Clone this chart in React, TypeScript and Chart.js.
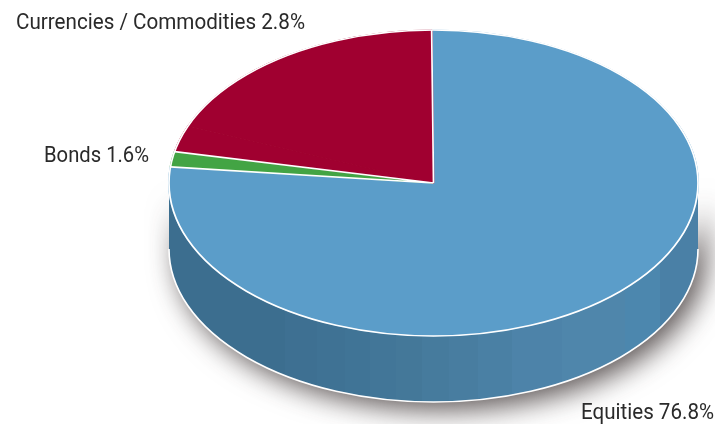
import React, { useEffect, useRef } from "react";
import { Chart, registerables } from "chart.js";

Chart.register(...registerables);

// Allocation shares, clockwise from twelve o'clock. The share that carries no
// caption of its own completes the full circle and shares the commodities colour.
const categories = ["Equities", "Bonds", "Currencies / Commodities", "Unlabelled remainder"];
const shares = [76.8, 1.6, 2.8, 18.8];
const faceColors = ["#5b9dc9", "#43a444", "#a00030", "#a00030"];

const captions = ["Equities 76.8%", "Bonds 1.6%", "Currencies / Commodities 2.8%"];
const captionX = [581, 44, 16];
const captionY = [413, 156, 23];
const captionWidth = [133, 105, 289];

// Flat shading bands along the front wall: right edge of each band as a
// fraction of the wall's width, and the band's colour.
const wallBandEnds = [0.219, 0.28, 0.333, 0.38, 0.429, 0.478, 0.529, 0.584, 0.648, 0.743, 0.862, 0.929, 1];
const wallBandColors = [
  "#3c6e8f", "#3e7092", "#3f7294", "#407496", "#427698", "#447899", "#467b9d",
  "#487da0", "#4a80a4", "#4d83a9", "#4f86ab", "#4c87ae", "#4a80a6",
];

const RADIUS_X = 264.5;
const WALL_DEPTH = 66;

const pie3d = {
  id: "pie3d",
  beforeDatasetsDraw(chart: any) {
    const ctx = chart.ctx;
    const { x: cx, y: cy, outerRadius: ry } = chart.getDatasetMeta(0).data[0];

    const grad = ctx.createLinearGradient(cx - RADIUS_X, 0, cx + RADIUS_X, 0);
    wallBandEnds.forEach((end, i) => {
      grad.addColorStop(i === 0 ? 0 : wallBandEnds[i - 1], wallBandColors[i]);
      grad.addColorStop(end, wallBandColors[i]);
    });

    // Front wall: only the lower half of the rim can be seen. It also casts
    // the soft drop shadow below and to the right of the pie.
    ctx.save();
    ctx.beginPath();
    ctx.ellipse(cx, cy, RADIUS_X, ry, 0, 0, Math.PI, false);
    ctx.ellipse(cx, cy + WALL_DEPTH, RADIUS_X, ry, 0, Math.PI, 0, true);
    ctx.closePath();
    ctx.shadowColor = "rgba(30,20,20,0.72)";
    ctx.shadowBlur = 28;
    ctx.shadowOffsetX = 8;
    ctx.shadowOffsetY = 8;
    ctx.fillStyle = grad;
    ctx.fill();
    ctx.restore();

    ctx.save();
    ctx.beginPath();
    ctx.ellipse(cx, cy + WALL_DEPTH, RADIUS_X, ry, 0, 0, Math.PI, false);
    ctx.strokeStyle = "#ffffff";
    ctx.lineWidth = 1.6;
    ctx.stroke();
    ctx.restore();

    // The library draws circular arcs; stretch them into the tilted top face.
    ctx.save();
    ctx.translate(cx, cy);
    ctx.scale(RADIUS_X / ry, 1);
    ctx.translate(-cx, -cy);
  },
  afterDatasetsDraw(chart: any) {
    const ctx = chart.ctx;
    ctx.restore();
    const arcs = chart.getDatasetMeta(0).data;
    const { x: cx, y: cy, outerRadius: ry } = arcs[0];
    ctx.save();
    ctx.strokeStyle = "#ffffff";
    ctx.lineWidth = 1.7;
    ctx.beginPath();
    ctx.ellipse(cx, cy, RADIUS_X, ry, 0, 0, Math.PI * 2);
    ctx.stroke();
    // White spokes only where the colour changes between neighbouring slices.
    ctx.beginPath();
    arcs.forEach((arc: any, i: number) => {
      if (faceColors[i] === faceColors[(i + arcs.length - 1) % arcs.length]) return;
      ctx.moveTo(cx, cy);
      ctx.lineTo(cx + RADIUS_X * Math.cos(arc.startAngle), cy + ry * Math.sin(arc.startAngle));
    });
    ctx.stroke();
    ctx.restore();
  },
  afterDraw(chart: any) {
    const ctx = chart.ctx;
    ctx.save();
    ctx.fillStyle = "#2a2a2a";
    ctx.font = "400 22px Roboto";
    ctx.textBaseline = "middle";
    ctx.textAlign = "left";
    captions.forEach((text, i) => ctx.fillText(text, captionX[i], captionY[i], captionWidth[i]));
    ctx.restore();
  },
};

export default function App() {
  const ref = useRef<HTMLCanvasElement>(null);
  useEffect(() => {
    document.body.style.margin = "0";
    const chart = new Chart(ref.current!, {
      type: "pie",
      data: {
        labels: categories,
        datasets: [
          {
            data: shares,
            backgroundColor: faceColors,
            borderColor: faceColors,
            borderWidth: 1,
            clip: false,
          } as any,
        ],
      },
      options: {
        responsive: false,
        animation: false,
        rotation: -0.4,
        layout: { padding: { top: 29.5, bottom: 87.5, left: 280, right: 128 } },
        plugins: { legend: { display: false }, tooltip: { enabled: false } },
      },
      plugins: [pie3d],
    });
    return () => chart.destroy();
  }, []);
  return <canvas ref={ref} width={715} height={424} style={{ display: "block" }} />;
}
